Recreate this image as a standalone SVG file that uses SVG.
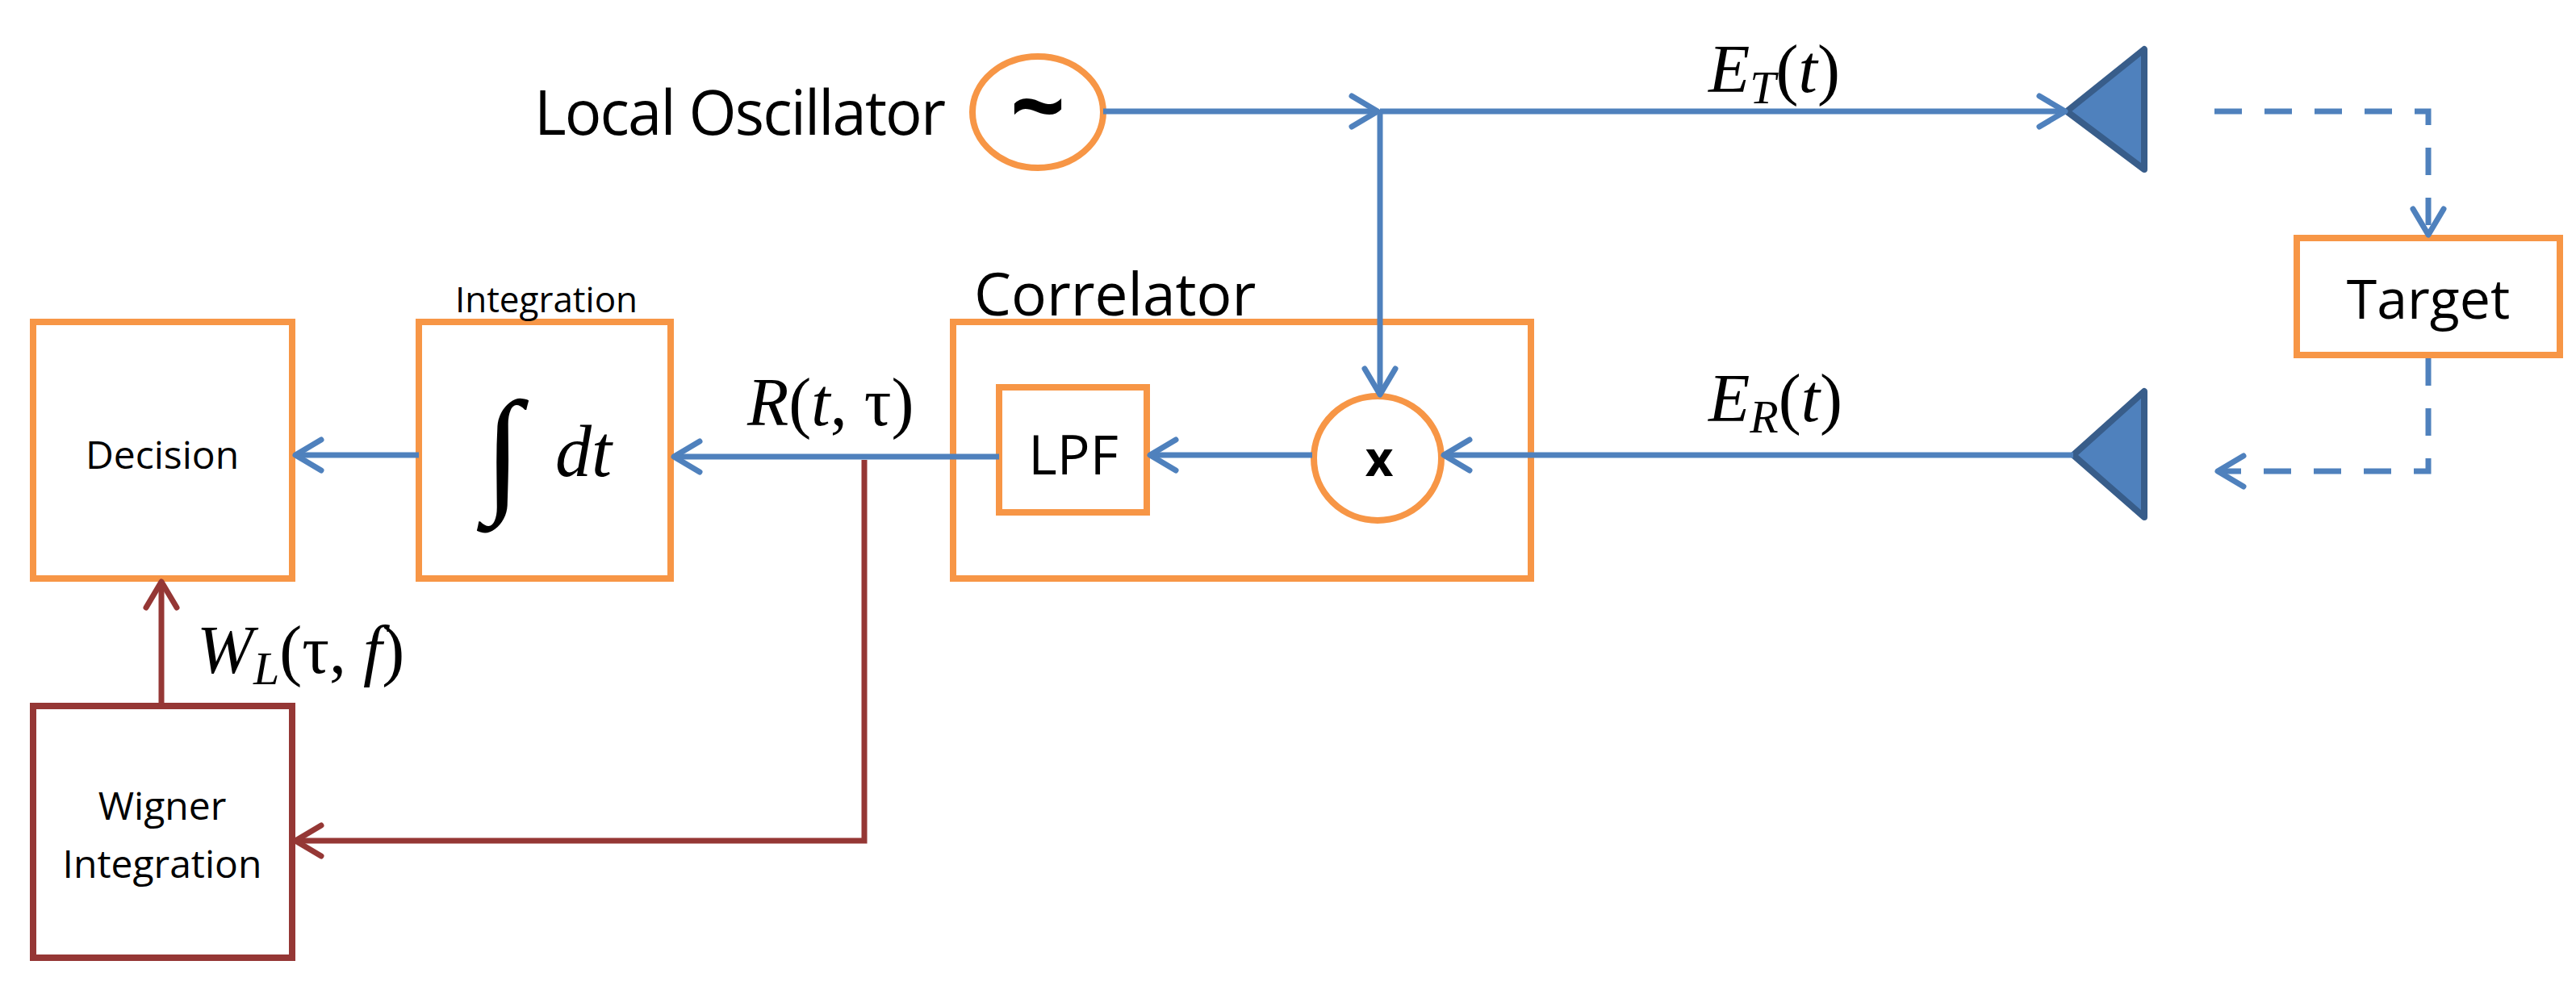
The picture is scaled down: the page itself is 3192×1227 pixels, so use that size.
<svg xmlns="http://www.w3.org/2000/svg" width="3192" height="1227" viewBox="0 0 3192 1227">
<style>
.box{fill:#fff;stroke:#F79646;stroke-width:8}
.blue{fill:none;stroke:#4F81BD;stroke-width:7}
.red{fill:none;stroke:#953735;stroke-width:7}
.t{font-family:"Open Sans","Liberation Sans",sans-serif;fill:#000}
.m{font-family:"Liberation Serif",serif;font-style:italic;fill:#000}
</style>
<defs>
<marker id="ab" viewBox="-44 -24 50 48" refX="0" refY="0" markerWidth="50" markerHeight="48" markerUnits="userSpaceOnUse" orient="auto"><path d="M-32,-19 L0,0 L-32,19" fill="none" stroke="#4F81BD" stroke-width="7" stroke-linecap="round" stroke-linejoin="round"/></marker>
<marker id="ar" viewBox="-44 -24 50 48" refX="0" refY="0" markerWidth="50" markerHeight="48" markerUnits="userSpaceOnUse" orient="auto"><path d="M-32,-19 L0,0 L-32,19" fill="none" stroke="#953735" stroke-width="7" stroke-linecap="round" stroke-linejoin="round"/></marker>
</defs>
<g id="decision"><rect class="box" x="41" y="399" width="321" height="318"/><text class="t" x="201" y="581" font-size="48" text-anchor="middle">Decision</text></g>
<g id="integration"><rect class="box" x="519" y="399" width="312" height="318"/><text class="t" x="677" y="387" font-size="44" text-anchor="middle">Integration</text>
<text class="m" x="600" y="615" font-size="170" font-style="normal">∫</text><text class="m" x="688" y="590" font-size="90">dt</text></g>
<g id="correlator"><rect fill="none" stroke="#F79646" stroke-width="8" x="1181" y="399" width="716" height="318"/><text class="t" x="1207" y="391" font-size="73">Correlator</text></g>
<g id="lpf"><rect class="box" x="1238" y="480" width="183" height="155"/><text class="t" x="1330" y="588" font-size="68" text-anchor="middle">LPF</text></g>
<g id="mixer"><ellipse fill="#fff" stroke="#F79646" stroke-width="8" cx="1707" cy="568" rx="79" ry="77"/><text class="t" x="1709" y="590" font-size="60" font-weight="bold" text-anchor="middle">x</text></g>
<g id="oscillator"><ellipse fill="#fff" stroke="#F79646" stroke-width="8" cx="1286" cy="139" rx="81" ry="69"/><text class="t" x="1286" y="175" font-size="120" font-weight="bold" text-anchor="middle">~</text>
<text class="t" x="662" y="167" font-size="76" textLength="510">Local Oscillator</text></g>
<g id="wigner"><rect fill="#fff" stroke="#953735" stroke-width="8" x="41" y="875" width="321" height="312"/><text class="t" x="201" y="1016" font-size="48" text-anchor="middle">Wigner</text><text class="t" x="201" y="1088" font-size="48" text-anchor="middle">Integration</text></g>
<g id="tx"><path d="M2561,138 L2657,61 V210 Z" fill="#4F81BD" stroke="#385D8A" stroke-width="8" stroke-linejoin="round"/></g>
<g id="rx"><path d="M2569,564 L2657,485 V641 Z" fill="#4F81BD" stroke="#385D8A" stroke-width="8" stroke-linejoin="round"/></g>
<g id="target"><rect class="box" x="2846" y="295" width="326" height="145"/><text class="t" x="3009" y="395" font-size="68" text-anchor="middle">Target</text></g>
<g id="connectors">
<path class="blue" d="M1367,138 H1707" marker-end="url(#ab)"/>
<path class="blue" d="M1710,138 H2559" marker-end="url(#ab)"/>
<path class="blue" d="M1710,138 V489" marker-end="url(#ab)"/>
<path class="blue" d="M2569,564 H1789" marker-end="url(#ab)"/>
<path class="blue" d="M1626,564 H1425" marker-end="url(#ab)"/>
<path class="blue" d="M1238,566 H835" marker-end="url(#ab)"/>
<path class="blue" d="M519,564 H366" marker-end="url(#ab)"/>
<path class="blue" d="M2744,138 H3009 V291" stroke-dasharray="34,28" marker-end="url(#ab)"/>
<path class="blue" d="M3009,444 V584 H2748" stroke-dasharray="34,28" marker-end="url(#ab)"/>
<path class="red" d="M1071,570 V1042 H366" marker-end="url(#ar)"/>
<path class="red" d="M200,875 V721" marker-end="url(#ar)"/>
</g>
<g id="labels">
<text class="m" x="2117" y="114" font-size="84">E<tspan font-size="58" dy="14">T</tspan><tspan font-style="normal" dy="-14">(</tspan>t<tspan font-style="normal">)</tspan></text>
<text class="m" x="2117" y="522" font-size="84">E<tspan font-size="58" dy="14">R</tspan><tspan font-style="normal" dy="-14">(</tspan>t<tspan font-style="normal">)</tspan></text>
<text class="m" x="926" y="527" font-size="84">R<tspan font-style="normal">(</tspan>t<tspan font-style="normal">, τ)</tspan></text>
<text class="m" x="244" y="834" font-size="84">W<tspan font-size="58" dy="14">L</tspan><tspan font-style="normal" dy="-14">(τ, </tspan>f<tspan font-style="normal">)</tspan></text>
</g>
</svg>
